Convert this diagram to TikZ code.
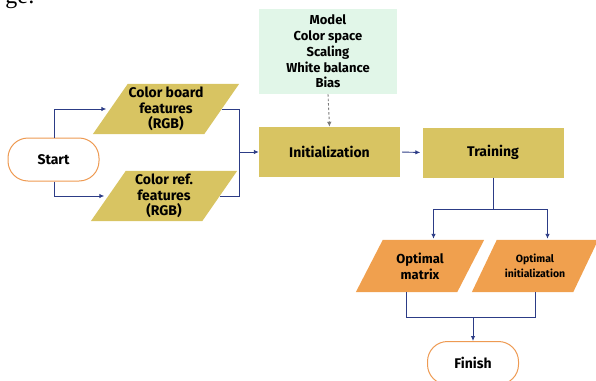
\documentclass[tikz,border=0pt]{standalone}
\usepackage{fontspec}
\setmainfont{Fira Sans}
\newfontfamily\captionserif{Liberation Serif}
\usetikzlibrary{arrows.meta,backgrounds}

\definecolor{procfill}{HTML}{D8C462}
\definecolor{outfill}{HTML}{F0A04E}
\definecolor{termline}{HTML}{EE9A52}
\definecolor{paramfill}{HTML}{E1F6E8}
\definecolor{linkblue}{HTML}{2C3C86}
\definecolor{hintgray}{HTML}{7A7A7A}

\tikzset{
  terminal/.style={draw=termline, line width=1pt, fill=white, rounded corners=20pt,
    minimum width=91pt, minimum height=43pt, inner sep=0pt,
    font=\bfseries\fontsize{14}{16}\selectfont},
  process/.style={fill=procfill, minimum width=141pt, minimum height=50pt, inner sep=0pt,
    font=\bfseries\fontsize{14}{16}\selectfont},
  params/.style={fill=paramfill, minimum width=138pt, minimum height=85pt, inner sep=0pt,
    align=center, font=\bfseries\fontsize{13}{15.7}\selectfont},
  iotext/.style={minimum width=111pt, minimum height=50pt, inner sep=0pt, align=center,
    font=\bfseries\fontsize{14}{15.5}\selectfont},
  outtext/.style={minimum width=101pt, minimum height=52pt, inner sep=0pt, align=center},
  link/.style={draw=linkblue, line width=0.9pt},
  linkarrow/.style={link, -{Latex[length=5pt,width=4.5pt]}},
  hint/.style={draw=hintgray, line width=0.9pt, dash pattern=on 2.5pt off 2pt,
    -{Latex[length=5pt,width=4.5pt]}},
}

% fills a parallelogram behind a text node; #2 is half the horizontal slant
\newcommand{\slantbox}[3]{%
  \begin{scope}[on background layer]
    \fill[#3] ([xshift=#2pt]#1.north west) -- ([xshift=#2pt]#1.north east)
      -- ([xshift=-#2pt]#1.south east) -- ([xshift=-#2pt]#1.south west) -- cycle;
  \end{scope}}

\begin{document}
\begin{tikzpicture}[x=1pt, y=-1pt]
  \useasboundingbox (0,0) rectangle (596,380);
  \clip (0,0) rectangle (596,380);

  % caption fragment along the top edge
  \node[anchor=base east, inner sep=0pt, font=\captionserif\fontsize{24}{24}\selectfont]
    (cap) at (35,4) {ge:};

  % flow nodes
  \node[terminal] (start) at (53.5,159.5) {Start};
  \node[iotext] (board) at (166,109) {Color board\\features\\(RGB)};
  \node[iotext] (ref) at (164,196) {Color ref.\\features\\(RGB)};
  \node[params] (param) at (328,51.5) {Model\\Color space\\Scaling\\White balance\\Bias};
  \node[process] (init) at (329.5,152) {Initialization};
  \node[process] (train) at (493,152.5) {Training};
  \node[outtext, font=\bfseries\fontsize{13}{16}\selectfont] (omat) at (420,266) {Optimal\\matrix};
  \node[outtext, font=\bfseries\fontsize{10.5}{15}\selectfont] (oinit) at (535,266) {Optimal\\initialization};
  \node[terminal] (finish) at (473,363) {Finish};

  \slantbox{board}{17.5}{procfill}
  \slantbox{ref}{17.5}{procfill}
  \slantbox{omat}{13.5}{outfill}
  \slantbox{oinit}{12.5}{outfill}

  % junction points
  \coordinate (merge) at (239,152);
  \coordinate (split) at (493,209);
  \coordinate (join) at (473,317);

  % connectors
  \draw[linkarrow, shorten >=4pt] ([xshift=0.5pt]start.north) |- (board.west);
  \draw[linkarrow, shorten >=4pt] ([xshift=0.5pt]start.south) |- (ref.west);
  \draw[link] (board.east) -| (merge);
  \draw[link] (ref.east) -| (merge);
  \draw[linkarrow] (merge) -- (init.west);
  \draw[hint] (param.south) -- (init.north);
  \draw[linkarrow, shorten <=2pt, shorten >=2pt] (init.east) -- (train.west);
  \draw[link] (train.south) -- (split);
  \draw[linkarrow, shorten >=1pt] (split) -| ([xshift=13.5pt]omat.north);
  \draw[linkarrow, shorten >=1pt] (split) -| ([xshift=12.5pt]oinit.north);
  \draw[link] ([xshift=-13.5pt]omat.south) |- (join);
  \draw[link] (oinit.south) |- (join);
  \draw[linkarrow] (join) -- (finish.north);
\end{tikzpicture}
\end{document}
